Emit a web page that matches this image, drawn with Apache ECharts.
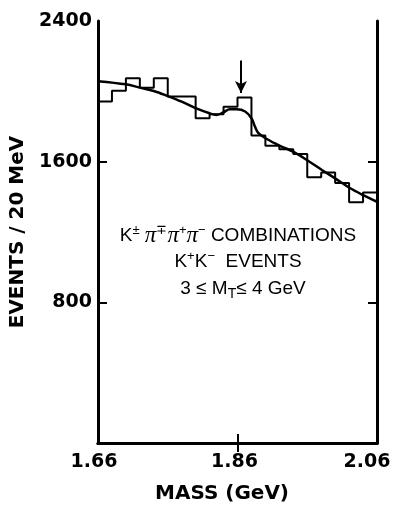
<!DOCTYPE html>
<html>
<head>
<meta charset="utf-8">
<script src="https://cdn.jsdelivr.net/npm/echarts@6/dist/echarts.min.js"></script>
<style>
html,body{margin:0;padding:0;background:#fff;}
#c{width:394px;height:506px;}
</style>
</head>
<body>
<div id="c"></div>
<script>
// Histogram: left bin edges (GeV) and events per 20 MeV bin
var binEdges = [1.66, 1.68, 1.70, 1.72, 1.74, 1.76, 1.78, 1.80, 1.82, 1.84,
                1.86, 1.88, 1.90, 1.92, 1.94, 1.96, 1.98, 2.00, 2.02, 2.04, 2.06];
var binCounts = [1942, 2003, 2074, 2020, 2074, 1970, 1970, 1847, 1870, 1913,
                 1965, 1749, 1690, 1671, 1643, 1512, 1539, 1478, 1369, 1425];
// Fitted curve (mass, events)
var fitMass = [1.660, 1.700, 1.720, 1.740, 1.760, 1.780, 1.800, 1.820, 1.830, 1.840,
               1.849, 1.859, 1.871, 1.880, 1.885, 1.890, 1.902, 1.921, 1.941, 1.961,
               1.981, 2.001, 2.021, 2.041, 2.060];
var fitEvents = [2058, 2040, 2021, 2002, 1973, 1941, 1904, 1875, 1866, 1881,
                 1898, 1898, 1885, 1847, 1800, 1762, 1729, 1690, 1654, 1605,
                 1553, 1502, 1450, 1408, 1372];
// Arrow marking the signal position
var arrowMass = 1.865;
var arrowFrom = 2175, arrowTo = 1990;
// Tick labels
var xTicks = [1.66, 1.86, 2.06];
var yTicks = [800, 1600, 2400];

var histData = [];
for (var i = 0; i < binCounts.length; i++) histData.push([binEdges[i], binCounts[i]]);
histData.push([binEdges[binEdges.length - 1], binCounts[binCounts.length - 1]]);
var fitData = fitMass.map(function (m, i) { return [m, fitEvents[i]]; });

var FONT = 'DejaVu Sans';
var chart = echarts.init(document.getElementById('c'), null, {renderer: 'canvas'});
var axisLine = {show: true, lineStyle: {color: '#000', width: 3}};
var tickIn = {show: true, inside: true, length: 9, lineStyle: {color: '#000', width: 2}};
var xLabStyle = {fontFamily: FONT, fontWeight: 'bold', fontSize: 19, color: '#000'};

chart.setOption({
  animation: false,
  backgroundColor: '#fff',
  grid: {left: 98, right: 17, top: 21, bottom: 63, containLabel: false, outerBoundsMode: 'none'},
  xAxis: [{
    type: 'value', position: 'bottom', min: 1.66, max: 2.06,
    axisLine: axisLine,
    axisTick: Object.assign({}, tickIn, {customValues: [1.86]}),
    axisLabel: {customValues: xTicks, margin: 10, color: '#000', fontFamily: FONT, fontWeight: 'bold', fontSize: 19,
      formatter: function (v) {
        var s = v.toFixed(2);
        if (Math.abs(v - xTicks[0]) < 1e-9) return '{first|' + s + '}';
        if (Math.abs(v - xTicks[xTicks.length - 1]) < 1e-9) return '{last|' + s + '}';
        return '{mid|' + s + '}';
      },
      rich: {
        first: Object.assign({padding: [0, 8, 0, 0]}, xLabStyle),
        mid: Object.assign({padding: [0, 6, 0, 0]}, xLabStyle),
        last: Object.assign({padding: [0, 20, 0, 0]}, xLabStyle)
      }},
    splitLine: {show: false},
    name: 'MASS (GeV)', nameLocation: 'middle', nameGap: 41,
    nameTextStyle: {color: '#000', fontFamily: FONT, fontWeight: 'bold', fontSize: 20, padding: [0, 31, 0, 0]}
  }, {
    type: 'value', position: 'top', min: 1.66, max: 2.06,
    axisLine: axisLine,
    axisTick: Object.assign({}, tickIn, {customValues: [1.86]}),
    axisLabel: {show: false},
    splitLine: {show: false}
  }],
  yAxis: [{
    type: 'value', position: 'left', min: 0, max: 2400, interval: 800,
    axisLine: axisLine,
    axisTick: Object.assign({}, tickIn, {customValues: [800, 1600]}),
    axisLabel: {customValues: yTicks, margin: 6, color: '#000', fontFamily: FONT, fontWeight: 'bold', fontSize: 19,
      formatter: function (v) { return String(v); }},
    splitLine: {show: false},
    name: 'EVENTS / 20 MeV', nameLocation: 'middle', nameGap: 66,
    nameTextStyle: {color: '#000', fontFamily: FONT, fontWeight: 'bold', fontSize: 20}
  }, {
    type: 'value', position: 'right', min: 0, max: 2400, interval: 800,
    axisLine: axisLine,
    axisTick: Object.assign({}, tickIn, {customValues: [800, 1600]}),
    axisLabel: {show: false},
    splitLine: {show: false}
  }],
  series: [{
    type: 'line', step: 'end', data: histData, symbol: 'none',
    lineStyle: {color: '#000', width: 2}, z: 3,
    markLine: {
      silent: true, symbol: ['none', 'arrow'], symbolSize: [9, 12],
      label: {show: false},
      lineStyle: {color: '#000', width: 2, type: 'solid'},
      data: [[{coord: [arrowMass, arrowFrom]}, {coord: [arrowMass, arrowTo]}]]
    }
  }, {
    type: 'line', data: fitData, symbol: 'none', smooth: 0.35,
    lineStyle: {color: '#000', width: 2.5}, z: 4
  }],
  graphic: [{
    type: 'text', x: 238, y: 236,
    style: {
      text: 'K{sup|±} {pi|π}{sup|∓}{pi|π}{sup|+}{pi|π}{sup|−} COMBINATIONS',
      align: 'center', verticalAlign: 'middle', fill: '#000',
      fontSize: 19, fontFamily: 'Liberation Sans',
      rich: {
        sup: {fontSize: 13, fontFamily: 'Liberation Sans', verticalAlign: 'top', lineHeight: 24, padding: [0, 0, 8, 0]},
        pi: {fontSize: 23, fontFamily: 'Liberation Serif', fontStyle: 'italic', lineHeight: 24}
      }
    }
  }, {
    type: 'text', x: 238, y: 262,
    style: {
      text: 'K{sup|+}K{sup|−}  EVENTS',
      align: 'center', verticalAlign: 'middle', fill: '#000',
      fontSize: 19, fontFamily: 'Liberation Sans',
      rich: {
        sup: {fontSize: 13, fontFamily: 'Liberation Sans', verticalAlign: 'top', lineHeight: 24, padding: [0, 0, 8, 0]}
      }
    }
  }, {
    type: 'text', x: 243, y: 289,
    style: {
      text: '3 ≤ M{sub|T}≤ 4 GeV',
      align: 'center', verticalAlign: 'middle', fill: '#000',
      fontSize: 19, fontFamily: 'Liberation Sans',
      rich: {
        sub: {fontSize: 14, fontFamily: 'Liberation Sans', verticalAlign: 'bottom', lineHeight: 24, padding: [8, 0, 0, 0]}
      }
    }
  }]
});
</script>
</body>
</html>
